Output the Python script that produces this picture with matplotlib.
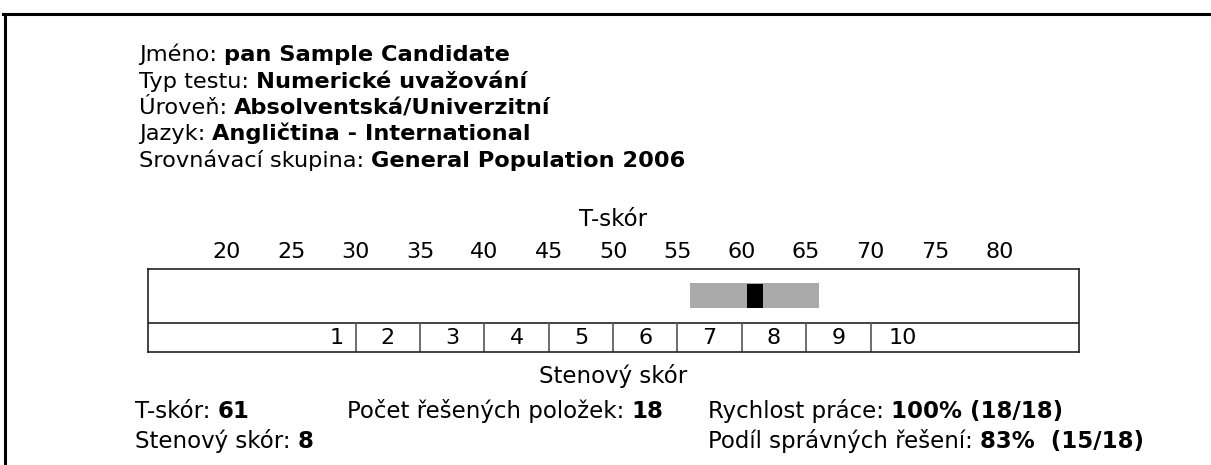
import matplotlib
matplotlib.use("Agg")
import matplotlib.pyplot as plt
from matplotlib.lines import Line2D
from matplotlib.patches import Rectangle

# header fields (label, value)
header_labels = ["Jméno: ", "Typ testu: ", "Úroveň: ", "Jazyk: ", "Srovnávací skupina: "]
header_values = ["pan Sample Candidate", "Numerické uvažování", "Absolventská/Univerzitní",
                 "Angličtina - International", "General Population 2006"]

# T-score scale and sten bands
t_ticks = [20, 25, 30, 35, 40, 45, 50, 55, 60, 65, 70, 75, 80]
sten_labels = ["1", "2", "3", "4", "5", "6", "7", "8", "9", "10"]
sten_centers = [28.5, 32.5, 37.5, 42.5, 47.5, 52.5, 57.5, 62.5, 67.5, 72.5]
sten_edges = [30, 35, 40, 45, 50, 55, 60, 65, 70]
t_score = 61
band_low = 56
band_high = 66

# summary rows (label, value)
summary_labels = ["T-skór: ", "Počet řešených položek: ", "Rychlost práce: ",
                  "Stenový skór: ", "Podíl správných řešení: "]
summary_values = ["61", "18", "100% (18/18)", "8", "83%  (15/18)"]

W, H = 1211, 465
fig = plt.figure(figsize=(W / 100, H / 100), dpi=100)
fig.patch.set_facecolor("white")

def px(x, y):
    # pixel coords (top-left origin) -> figure fraction
    return x / W, 1 - y / H

# page border (top and left only)
fig.add_artist(Line2D([3 / W, 1], [1 - 14 / H, 1 - 14 / H], color="black", lw=2.2, transform=fig.transFigure))
fig.add_artist(Line2D([5 / W, 5 / W], [1 - 14 / H, 0], color="black", lw=2.2, transform=fig.transFigure))

renderer = fig.canvas.get_renderer()

def label_value(x, y, label, value, size):
    fx, fy = px(x, y)
    t = fig.text(fx, fy, label, fontsize=size, va="baseline", ha="left")
    bb = t.get_window_extent(renderer=renderer)
    fig.text(bb.x1 / W, fy, value, fontsize=size, fontweight="bold", va="baseline", ha="left")

# header block
header_base = [61, 87.5, 114, 140.5, 167]
for lab, val, yb in zip(header_labels, header_values, header_base):
    label_value(139, yb, lab, val, 16.2)

# scale box
ax = fig.add_axes([148 / W, (H - 352) / H, (1079 - 148) / W, (352 - 269) / H])
ax.set_xlim(13.86, 86.2)
ax.set_ylim(0, 83)
for s in ax.spines.values():
    s.set_linewidth(1.2)
    s.set_color("#222222")
ax.set_yticks([])
ax.xaxis.tick_top()
ax.set_xticks(t_ticks)
ax.set_xticklabels([str(t) for t in t_ticks], fontsize=16)
ax.tick_params(axis="x", length=0, pad=5)

# sten row
ax.axhline(29, color="#222222", lw=1.2)
for e in sten_edges:
    ax.plot([e, e], [0, 29], color="#555555", lw=1.2)
for c, lab in zip(sten_centers, sten_labels):
    ax.text(c, 14.5, lab, fontsize=16, ha="center", va="center")

# confidence band and score marker
ax.add_patch(Rectangle((band_low, 44), band_high - band_low, 25, color="#aaaaaa", lw=0))
ax.add_patch(Rectangle((t_score - 0.62, 44.5), 1.24, 24, color="black", lw=0))

ax.text(0.5, (352 - 219) / 83, "T-skór", transform=ax.transAxes, fontsize=16.5, ha="center", va="center")
ax.text(0.5, (352 - 376) / 83, "Stenový skór", transform=ax.transAxes, fontsize=16.5, ha="center", va="center")

# summary rows
summary_pos = [(135, 418), (347, 418), (708, 418), (135, 448), (708, 448)]
for lab, val, (x, y) in zip(summary_labels, summary_values, summary_pos):
    label_value(x, y, lab, val, 16.5)

fig.savefig("out.png", dpi=100)
